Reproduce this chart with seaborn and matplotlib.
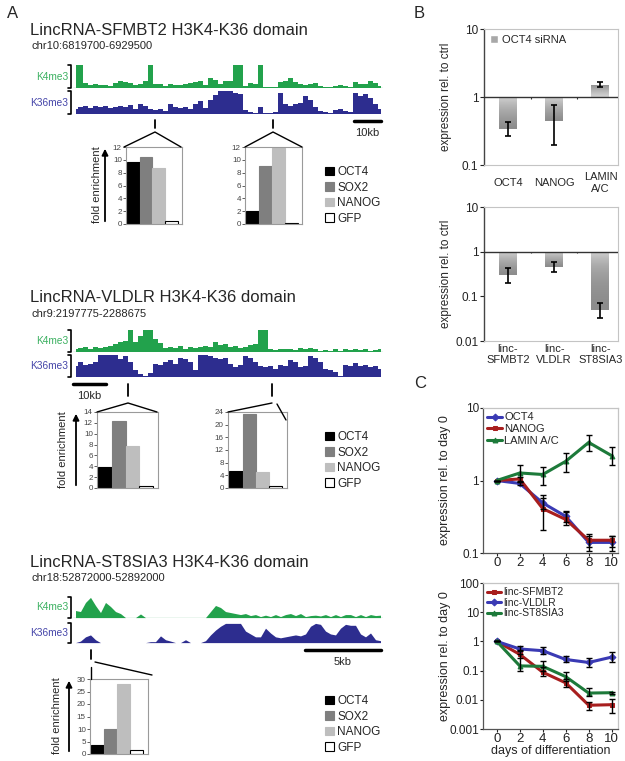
import numpy as np
import matplotlib
matplotlib.use('Agg')
import matplotlib.pyplot as plt
import seaborn as sns
from matplotlib.lines import Line2D
from matplotlib.patches import Patch, FancyArrowPatch
from matplotlib.colors import LinearSegmentedColormap
from matplotlib.ticker import NullLocator

# ---- panel A: ChIP-seq tracks (relative signal, 62 bins each) ----
sfmbt2_k4 = [1.0, 1.0, 0.2, 0.12, 0.15, 0.1, 0.12, 0.08, 0.2, 0.28,
             0.25, 0.2, 0.12, 0.15, 0.3, 1.0, 0.15, 0.18, 0.08, 0.15,
             0.1, 0.12, 0.15, 0.2, 0.25, 0.3, 0.12, 0.45, 0.35, 0.15,
             0.3, 0.3, 1.0, 1.0, 0.05, 0.2, 0.15, 1.0, 0.02, 0.02,
             0.02, 0.25, 0.3, 0.45, 0.25, 0.15, 0.12, 0.15, 0.2, 0.05,
             0.03, 0.03, 0.08, 0.1, 0.05, 0.02, 0.25, 0.15, 0.15, 0.3,
             0.2, 0.08]
sfmbt2_k36 = [0.2, 0.3, 0.35, 0.25, 0.35, 0.3, 0.35, 0.25, 0.3, 0.35,
              0.3, 0.4, 0.2, 0.45, 0.35, 0.2, 0.15, 0.2, 0.1, 0.45,
              0.3, 0.25, 0.3, 0.2, 0.45, 0.55, 0.25, 0.6, 0.85, 1.0,
              1.0, 1.0, 0.95, 0.9, 0.15, 0.05, 0.02, 0.3, 0.02, 0.02,
              0.05, 0.95, 0.45, 0.35, 0.45, 0.5, 0.8, 0.6, 0.3, 0.1,
              0.05, 0.02, 0.15, 0.2, 0.1, 0.05, 0.95, 0.8, 0.9, 0.7,
              0.45, 0.2]
vldlr_k4 = [0.1, 0.15, 0.2, 0.1, 0.2, 0.15, 0.2, 0.25, 0.35, 0.45,
            0.5, 1.0, 0.45, 0.75, 1.0, 1.0, 0.6, 0.4, 0.15, 0.2,
            0.15, 0.25, 0.1, 0.2, 0.15, 0.2, 0.25, 0.2, 0.45, 0.3,
            0.35, 0.2, 0.25, 0.15, 0.2, 0.3, 0.35, 1.0, 1.0, 0.1,
            0.08, 0.12, 0.1, 0.12, 0.08, 0.15, 0.1, 0.15, 0.12, 0.05,
            0.08, 0.05, 0.1, 0.05, 0.1, 0.08, 0.12, 0.08, 0.1, 0.05,
            0.08, 0.1]
vldlr_k36 = [0.5, 0.7, 0.55, 0.6, 0.7, 1.0, 1.0, 1.0, 1.0, 0.85,
             0.95, 0.7, 0.3, 0.1, 0.05, 0.15, 0.6, 0.55, 0.7, 0.8,
             0.6, 0.9, 0.85, 0.7, 0.3, 1.0, 1.0, 0.95, 0.9, 0.85,
             0.9, 0.6, 0.45, 0.55, 0.95, 0.9, 0.7, 0.5, 0.45, 0.5,
             0.35, 0.55, 0.5, 0.8, 0.7, 0.45, 0.5, 0.95, 0.9, 0.7,
             0.35, 0.3, 0.2, 0.05, 0.55, 0.5, 0.65, 0.5, 0.55, 0.45,
             0.5, 0.35]
st8sia3_k4 = [0.35, 0.3, 0.75, 1.0, 0.6, 0.25, 0.75, 0.55, 0.3, 0.2,
              0.0, 0.0, 0.0, 0.18, 0.0, 0.0, 0.0, 0.0, 0.0, 0.0,
              0.0, 0.0, 0.0, 0.0, 0.0, 0.0, 0.0, 0.3, 0.6, 0.5,
              0.3, 0.25, 0.2, 0.15, 0.2, 0.1, 0.15, 0.05, 0.12, 0.05,
              0.15, 0.05, 0.15, 0.2, 0.1, 0.2, 0.05, 0.1, 0.12, 0.08,
              0.15, 0.05, 0.15, 0.05, 0.15, 0.15, 0.05, 0.15, 0.05, 0.15,
              0.1, 0.12]
st8sia3_k36 = [0.0, 0.08, 0.3, 0.4, 0.15, 0.0, 0.0, 0.0, 0.0, 0.0,
               0.0, 0.0, 0.0, 0.0, 0.0, 0.05, 0.05, 0.35, 0.15, 0.08,
               0.0, 0.0, 0.15, 0.0, 0.0, 0.0, 0.1, 0.4, 0.65, 0.85,
               1.0, 1.0, 1.0, 1.0, 0.6, 0.45, 0.3, 0.3, 0.75, 0.5,
               0.3, 0.25, 0.3, 0.35, 0.4, 0.35, 0.45, 0.85, 1.0, 0.95,
               0.6, 0.45, 0.4, 0.75, 0.95, 0.9, 0.9, 0.45, 0.3, 0.5,
               0.15, 0.1]

# ---- panel A: ChIP fold enrichment ----
markers = ['OCT4', 'SOX2', 'NANOG', 'GFP']
sfmbt2_site1 = [9.7, 10.5, 8.7, 0.4]
sfmbt2_site2 = [2.1, 9.0, 11.9, 0.2]
vldlr_site1 = [3.8, 12.3, 7.7, 0.4]
vldlr_site2 = [5.5, 23.3, 5.0, 0.6]
st8sia3_site1 = [3.8, 10.0, 28.0, 1.5]

# ---- panel B: OCT4 knockdown ----
kd_genes = ['OCT4', 'NANOG', 'LAMIN\nA/C']
kd_expr = [0.335, 0.45, 1.53]
kd_lo = [0.267, 0.2, 1.42]
kd_hi = [0.43, 0.75, 1.64]
linc_genes = ['linc-\nSFMBT2', 'linc-\nVLDLR', 'linc-\nST8SIA3']
linc_kd_expr = [0.30, 0.45, 0.05]
linc_kd_lo = [0.2, 0.35, 0.032]
linc_kd_hi = [0.43, 0.58, 0.07]

# ---- panel C: differentiation time course ----
days = [0, 2, 4, 6, 8, 10]
oct4_diff = [1, 0.91, 0.49, 0.32, 0.14, 0.14]
oct4_lo = [1, 0.88, 0.40, 0.27, 0.12, 0.12]
oct4_hi = [1, 0.95, 0.58, 0.37, 0.17, 0.17]
nanog_diff = [1, 1.05, 0.41, 0.29, 0.15, 0.15]
nanog_lo = [1, 0.98, 0.21, 0.24, 0.105, 0.105]
nanog_hi = [1, 1.12, 0.64, 0.38, 0.18, 0.17]
lamin_diff = [1, 1.27, 1.21, 1.84, 3.35, 2.2]
lamin_lo = [1, 0.95, 0.88, 1.32, 2.55, 1.63]
lamin_hi = [1, 1.65, 1.53, 2.4, 4.2, 2.87]
sfmbt2_diff = [1, 0.36, 0.088, 0.038, 0.0065, 0.0068]
sfmbt2_lo = [1, 0.26, 0.063, 0.027, 0.0046, 0.0034]
sfmbt2_hi = [1, 0.5, 0.13, 0.05, 0.0083, 0.011]
vldlr_diff = [1, 0.55, 0.48, 0.24, 0.19, 0.29]
vldlr_lo = [1, 0.46, 0.38, 0.19, 0.13, 0.19]
vldlr_hi = [1, 0.68, 0.66, 0.31, 0.26, 0.42]
st8sia3_diff = [1, 0.145, 0.14, 0.062, 0.017, 0.0175]
st8sia3_lo = [1, 0.095, 0.095, 0.043, 0.013, 0.016]
st8sia3_hi = [1, 0.37, 0.21, 0.09, 0.025, 0.019]

GREEN = '#22a24c'
NAVY = '#2d2d8f'
BLUE = '#3a3ab4'
RED = '#a81e1e'
DGREEN = '#1d7a3a'
bar_colors = ['#000000', '#7f7f7f', '#bebebe', '#ffffff']
bar_edges = ['#000000', '#7f7f7f', '#bebebe', '#000000']

sns.set_theme(style='white')
plt.rcParams['font.family'] = ['Liberation Sans', 'DejaVu Sans']

W, H = 625, 761
fig = plt.figure(figsize=(W / 100, H / 100), dpi=100)


def rect(x0, y0, x1, y1):
    # pixel box (top-left origin) -> figure fraction
    return [x0 / W, 1 - y1 / H, (x1 - x0) / W, (y1 - y0) / H]


def fpt(x, y):
    return x / W, 1 - y / H


def line(xs, ys, **kw):
    kw.setdefault('color', 'black')
    kw.setdefault('lw', 1.0)
    fig.add_artist(Line2D([x / W for x in xs], [1 - y / H for y in ys], **kw))


def text(x, y, s, **kw):
    fig.text(x / W, 1 - y / H, s, **kw)


def track(y0, y1, vals, color, label, label_color, smooth=False, baseline=False):
    ax = fig.add_axes(rect(73, y0, 383, y1))
    x = np.arange(len(vals))
    if smooth:
        ax.fill_between(x, vals, color=color, lw=0)
    else:
        ax.fill_between(x, vals, step='mid', color=color, lw=0)
    if baseline:
        ax.axhline(0, color=color, lw=0.9, alpha=0.7)
    ax.set_xlim(-0.5, len(vals) - 0.5)
    ax.set_ylim(-0.02, 1.02)
    ax.axis('off')
    text(68, (y0 + y1) / 2, label, ha='right', va='center', color=label_color, fontsize=7.3)
    line([68, 71, 71, 68], [y0, y0, y1, y1], lw=1.2)


def enrich(x0, x1, y0, y1, vals, top, step):
    ax = fig.add_axes(rect(x0, y0, x1, y1))
    sns.barplot(x=markers, y=vals, hue=markers, palette=bar_colors, width=1.0,
                saturation=1, legend=False, ax=ax)
    for p, ec in zip(ax.patches, bar_edges):
        p.set_edgecolor(ec)
        p.set_linewidth(0.8)
    ax.set_xlim(-0.6, 3.85)
    ax.set_ylim(0, top)
    ax.set_yticks(range(0, top + 1, step))
    ax.set_xticks([])
    ax.set_xlabel('')
    ax.set_ylabel('')
    ax.tick_params(axis='y', labelsize=5.8, length=2, width=0.6, colors='#444', pad=1, left=True)
    for s in ax.spines.values():
        s.set_color('#9a9a9a')
        s.set_linewidth(0.8)
    return ax


def fold_label(x_text, x_arrow, y_top, y_bot):
    text(x_text, (y_top + y_bot) / 2, 'fold enrichment', rotation=90, ha='center', va='center', fontsize=8)
    fig.add_artist(FancyArrowPatch(fpt(x_arrow, y_bot), fpt(x_arrow, y_top), transform=fig.transFigure,
                                   arrowstyle='-|>', mutation_scale=9, lw=1.3, color='black'))


def marker_legend(x, y_top):
    handles = [Patch(facecolor=c, edgecolor=e, lw=0.8) for c, e in zip(bar_colors, bar_edges)]
    fig.legend(handles, markers, loc='upper left', bbox_to_anchor=fpt(x, y_top), frameon=False,
               fontsize=8.5, handlelength=0.75, handleheight=0.75, handletextpad=0.3,
               labelspacing=0.3, borderpad=0, borderaxespad=0)


def scale_bar(x0, x1, y, label):
    line([x0, x1], [y, y], lw=2.5)
    text((x0 + x1) / 2, y + 12, label, ha='center', va='center', fontsize=8)


# ================= panel A =================
text(7, 18, 'A', fontsize=12, va='baseline')

# SFMBT2
text(30, 35, 'LincRNA-SFMBT2 H3K4-K36 domain', fontsize=12, va='baseline')
text(31, 49, 'chr10:6819700-6929500', fontsize=8, va='baseline')
track(65, 88, sfmbt2_k4, GREEN, 'K4me3', '#3bb060', baseline=True)
track(91, 114, sfmbt2_k36, NAVY, 'K36me3', '#4444a8')
scale_bar(354, 381, 121, '10kb')
line([155, 155], [120, 128], lw=1.3)
line([124, 155, 181], [147, 132, 147], lw=1.0)
line([273, 273], [120, 128], lw=1.3)
line([245, 273, 302], [147, 132, 147], lw=1.0)
enrich(126, 182, 147, 224, sfmbt2_site1, 12, 2)
enrich(245, 302, 147, 224, sfmbt2_site2, 12, 2)
fold_label(97, 105, 146, 224)
marker_legend(325, 166)

# VLDLR
text(30, 302, 'LincRNA-VLDLR H3K4-K36 domain', fontsize=12, va='baseline')
text(31, 317, 'chr9:2197775-2288675', fontsize=8, va='baseline')
track(330, 352, vldlr_k4, GREEN, 'K4me3', '#3bb060', baseline=True)
track(355, 377, vldlr_k36, NAVY, 'K36me3', '#4444a8')
scale_bar(73, 106, 384, '10kb')
line([128, 128], [384, 396], lw=1.3)
line([97, 128, 157], [412, 403, 412], lw=1.0)
line([272, 272], [384, 396], lw=1.3)
line([228, 272], [412, 403], lw=1.0)
line([277, 286], [404, 420], lw=1.0)
enrich(97, 158, 412, 488, vldlr_site1, 14, 2)
enrich(228, 287, 412, 488, vldlr_site2, 24, 4)
fold_label(63, 76, 411, 488)
marker_legend(325, 431)

# ST8SIA3
text(30, 567, 'LincRNA-ST8SIA3 H3K4-K36 domain', fontsize=12, va='baseline')
text(31, 581, 'chr18:52872000-52892000', fontsize=8, va='baseline')
track(597, 618, st8sia3_k4, GREEN, 'K4me3', '#3bb060', smooth=True, baseline=True)
track(623, 643, st8sia3_k36, NAVY, 'K36me3', '#4444a8', smooth=True)
scale_bar(305, 381, 650, '5kb')
line([91, 91], [650, 659], lw=1.3)
line([91, 91], [667, 679], lw=1.0)
line([95, 152], [662, 675], lw=1.0)
enrich(90, 148, 679, 754, st8sia3_site1, 30, 5)
fold_label(57, 69, 678, 754)
marker_legend(325, 695)

# ================= panel B =================
text(414, 18, 'B', fontsize=12, va='baseline')
grad_cmap = LinearSegmentedColormap.from_list('bargrad', ['#d2d2d2', '#8c8c8c'])


def kd_panel(y0, y1, genes, expr, lo, hi, ymin, yticks, yticklabels, top_labels):
    ax = fig.add_axes(rect(484, y0, 618, y1))
    ax.set_yscale('log')
    expr = np.array(expr)
    pos = np.arange(len(genes))
    bars = ax.bar(pos, expr - 1, bottom=1, width=0.39, color='#a8a8a8', zorder=2)
    for b, v in zip(bars, expr):
        g = np.linspace(1, 0, 64) if v < 1 else np.linspace(0, 1, 64)
        im = ax.imshow(g.reshape(-1, 1), extent=(b.get_x(), b.get_x() + b.get_width(), min(1, v), max(1, v)),
                       origin='lower', aspect='auto', cmap=grad_cmap, vmin=0, vmax=1, zorder=2.5,
                       interpolation='bilinear')
        im.set_clip_path(b)
    ax.errorbar(pos, expr, yerr=[expr - np.array(lo), np.array(hi) - expr], fmt='none', ecolor='black',
                elinewidth=1.2, capsize=2.5, capthick=1.2, zorder=4)
    ax.axhline(1, color='#333333', lw=1.0, zorder=3)
    ax.vlines([0.5, 1.5], 0.92, 1.0, color='#333333', lw=0.8, zorder=3)
    ax.set_xlim(-0.52, 2.38)
    ax.set_ylim(ymin, 10)
    ax.set_yticks(yticks, yticklabels)
    ax.yaxis.set_minor_locator(NullLocator())
    ax.set_xticks(pos, genes)
    ax.tick_params(axis='y', labelsize=8.5, length=3, width=0.8, left=True, pad=1, colors='#222')
    if top_labels:
        ax.tick_params(axis='x', labelsize=8, length=0, pad=13)
        for lbl in ax.get_xticklabels():
            lbl.set_va('center')
    else:
        ax.tick_params(axis='x', labelsize=8, length=0, pad=2)
    for k, s in ax.spines.items():
        s.set_color('#444444' if k == 'left' else '#c4c4c4')
        s.set_linewidth(1.0 if k == 'left' else 0.8)
    ax.set_ylabel('expression rel. to ctrl', fontsize=8.5)
    ax.yaxis.set_label_coords(-0.24, 0.5)
    return ax


axb1 = kd_panel(29, 165, kd_genes, kd_expr, kd_lo, kd_hi, 0.1, [0.1, 1, 10], ['0.1', '1', '10'], True)
axb1.legend([Patch(facecolor='#a8a8a8')], ['OCT4 siRNA'], loc='upper left', frameon=False, fontsize=8,
            handlelength=0.8, handleheight=0.8, handletextpad=0.3, borderaxespad=0.3, borderpad=0.2)
kd_panel(207, 341, linc_genes, linc_kd_expr, linc_kd_lo, linc_kd_hi, 0.01,
         [0.01, 0.1, 1, 10], ['0.01', '0.1', '1', '10'], False)

# ================= panel C =================
text(414, 388, 'C', fontsize=12, va='baseline')


def diff_panel(y0, y1, series, ymin, ymax, yticks, yticklabels, legend_kw, xlabel=None):
    ax = fig.add_axes(rect(483, y0, 618, y1))
    ax.set_yscale('log')
    for name, vals, lo, hi, color, mk in series:
        sns.lineplot(x=days, y=vals, color=color, lw=2.2, marker=mk, markersize=3.5,
                     markeredgecolor=color, label=name, ax=ax, zorder=2)
        v = np.array(vals)
        ax.errorbar(days, v, yerr=[v - np.array(lo), np.array(hi) - v], fmt='none', ecolor='black',
                    elinewidth=1.0, capsize=2, capthick=1.0, zorder=3)
    ax.set_xlim(-1.2, 10.55)
    ax.set_ylim(ymin, ymax)
    ax.set_xticks(days)
    ax.set_yticks(yticks, yticklabels)
    ax.yaxis.set_minor_locator(NullLocator())
    ax.tick_params(axis='x', labelsize=9.5, length=2, width=0.8, bottom=True, pad=1, colors='#222')
    ax.tick_params(axis='y', labelsize=8.5, length=2, width=0.8, left=True, pad=1, colors='#222')
    for k, s in ax.spines.items():
        s.set_color('#555555' if k in ('left', 'bottom') else '#c4c4c4')
        s.set_linewidth(0.9)
    ax.set_ylabel('expression rel. to day 0', fontsize=9)
    ax.yaxis.set_label_coords(-0.24, 0.5)
    if xlabel:
        ax.set_xlabel(xlabel, fontsize=9, labelpad=0)
    else:
        ax.set_xlabel('')
    ax.legend(loc='upper left', frameon=False, **legend_kw)
    return ax


diff_panel(408, 553,
           [('OCT4', oct4_diff, oct4_lo, oct4_hi, BLUE, 'D'),
            ('NANOG', nanog_diff, nanog_lo, nanog_hi, RED, 's'),
            ('LAMIN A/C', lamin_diff, lamin_lo, lamin_hi, DGREEN, '^')],
           0.1, 10, [0.1, 1, 10], ['0.1', '1', '10'],
           dict(fontsize=8, handlelength=1.3, handletextpad=0.2, labelspacing=0.15,
                borderaxespad=0.2, borderpad=0.2))

diff_panel(583, 729,
           [('linc-SFMBT2', sfmbt2_diff, sfmbt2_lo, sfmbt2_hi, RED, 's'),
            ('linc-VLDLR', vldlr_diff, vldlr_lo, vldlr_hi, BLUE, 'D'),
            ('linc-ST8SIA3', st8sia3_diff, st8sia3_lo, st8sia3_hi, DGREEN, '^')],
           0.001, 100, [0.001, 0.01, 0.1, 1, 10, 100], ['0.001', '0.01', '0.1', '1', '10', '100'],
           dict(fontsize=7.5, handlelength=1.3, handletextpad=0.2, labelspacing=0.05,
                borderaxespad=0.2, borderpad=0.2),
           xlabel='days of differentiation')

fig.savefig('out.png', dpi=100)
